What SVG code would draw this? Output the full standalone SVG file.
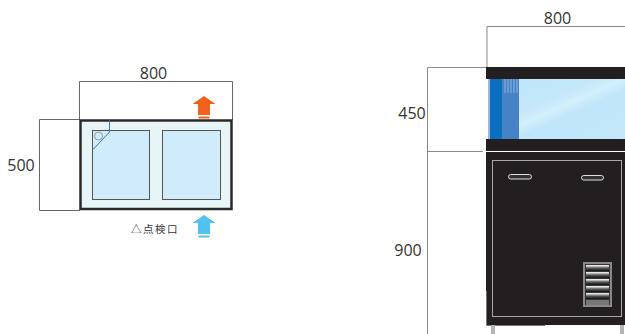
<svg xmlns="http://www.w3.org/2000/svg" width="625" height="334" viewBox="0 0 625 334">
<style>
.t{font-family:"Open Sans","Liberation Sans",sans-serif;font-size:16px;fill:#333;text-anchor:middle}
.j{font-family:"Noto Sans CJK JP","Noto Sans",sans-serif;font-size:10.500px;fill:#333;letter-spacing:1.500px}
.d{fill:none;stroke:#666;stroke-width:1}
.dg{fill:none;stroke:#8a8a8a;stroke-width:1}
.sink{fill:#d0ebf9;stroke:#555;stroke-width:1}
.h{fill:#333;stroke:#e0e0e0;stroke-width:1}
</style>
<defs>
<linearGradient id="sl" x1="0" y1="0" x2="0" y2="1">
<stop offset="0" stop-color="#fff"/><stop offset=".2" stop-color="#bbb"/><stop offset=".45" stop-color="#555"/><stop offset=".8" stop-color="#1a1a1a"/><stop offset="1" stop-color="#444"/>
</linearGradient>
<linearGradient id="gl" x1="0" y1="0" x2="1" y2="1">
<stop offset="0" stop-color="#bde5f9"/><stop offset=".4" stop-color="#c4e8fa"/><stop offset=".5" stop-color="#d3effb"/><stop offset=".6" stop-color="#c0e6f9"/><stop offset="1" stop-color="#c4e8fa"/>
</linearGradient>
<g id="arrow">
<path d="M0 0L11.500 8H6V19H-6V8H-11.500Z"/>
<rect x="-5.500" y="20.500" width="11" height="2"/>
</g>
</defs>

<g id="plan-dimensions">
<path class="d" d="M79.500 120V81.500H232.500V120"/>
<path class="d" d="M80 119.500H39.500V210.500H80"/>
<text class="t" x="153.500" y="79">800</text>
<text class="t" x="21" y="171">500</text>
</g>

<g id="plan-counter">
<rect x="80.500" y="120.500" width="151" height="88.500" fill="#e8f5f7" stroke="#2a2a2a" stroke-width="2.500"/>
</g>
<g id="plan-sink-left">
<rect class="sink" x="92.500" y="130.500" width="57" height="69"/>
<path d="M92 149H93.500L109.500 132V120" fill="none" stroke="#2e76bd" stroke-width="1"/>
<circle cx="98.500" cy="136" r="4" fill="none" stroke="#999" stroke-width="1"/>
</g>
<g id="plan-sink-right">
<rect class="sink" x="162.500" y="130.500" width="58" height="69"/>
</g>
<g id="arrow-out">
<use href="#arrow" x="204" y="96" fill="#f4601c"/>
</g>
<g id="arrow-in">
<use href="#arrow" x="204" y="215" fill="#4fc3ee"/>
</g>
<g id="inspection-label">
<text class="j" x="131" y="233">△点検口</text>
</g>

<g id="elevation-dimensions">
<path class="dg" d="M487 67V26.500H625"/>
<path class="dg" d="M487 67.500H427.500V334"/>
<path class="dg" d="M427.500 151.500H483"/>
<text class="t" x="557.500" y="24">800</text>
<text class="t" x="412" y="119">450</text>
<text class="t" x="408" y="256">900</text>
</g>

<g id="elevation-case">
<rect x="486" y="67" width="139" height="12" fill="#231f20"/>
<rect x="488" y="79" width="137" height="60" fill="url(#gl)"/>
<rect x="488" y="79" width="2" height="60" fill="#9fb4d8"/>
<rect x="490" y="79" width="12" height="60" fill="#0b6fbf"/>
<rect x="502" y="79" width="17" height="60" fill="#4682c6"/>
<path d="M505 79v14M508 79v14M511 79v14M514 79v14M517 79v14" stroke="#8fb2dd" stroke-width="1" fill="none"/>
<rect x="486" y="139" width="139" height="12" fill="#231f20"/>
</g>

<g id="elevation-body">
<rect x="486" y="152" width="139" height="173" fill="#231f20"/>
<rect x="492.500" y="160.500" width="129" height="156" fill="none" stroke="#a8a8a8" stroke-width="1"/>
<path d="M486.500 291V325.500H545" fill="none" stroke="#777" stroke-width="1"/>
</g>
<g id="handle-left">
<rect class="h" x="508.500" y="174.500" width="23" height="4.500" rx="2.250"/>
</g>
<g id="handle-right">
<rect class="h" x="581.500" y="175.500" width="22" height="4.500" rx="2.250"/>
</g>
<g id="vent">
<rect x="584" y="263" width="27" height="43" fill="#333" stroke="#8a8a8a" stroke-width="2"/>
<rect x="586" y="265" width="23" height="7" fill="url(#sl)"/>
<rect x="586" y="272" width="23" height="7" fill="url(#sl)"/>
<rect x="586" y="279" width="23" height="7" fill="url(#sl)"/>
<rect x="586" y="286" width="23" height="7" fill="url(#sl)"/>
<rect x="586" y="293" width="23" height="7" fill="url(#sl)"/>
<rect x="586" y="300" width="23" height="5" fill="#777"/>
</g>
<g id="legs">
<rect x="491" y="325" width="4" height="9" fill="#b5b5b5"/>
<rect x="620" y="325" width="4" height="9" fill="#b5b5b5"/>
</g>
</svg>
